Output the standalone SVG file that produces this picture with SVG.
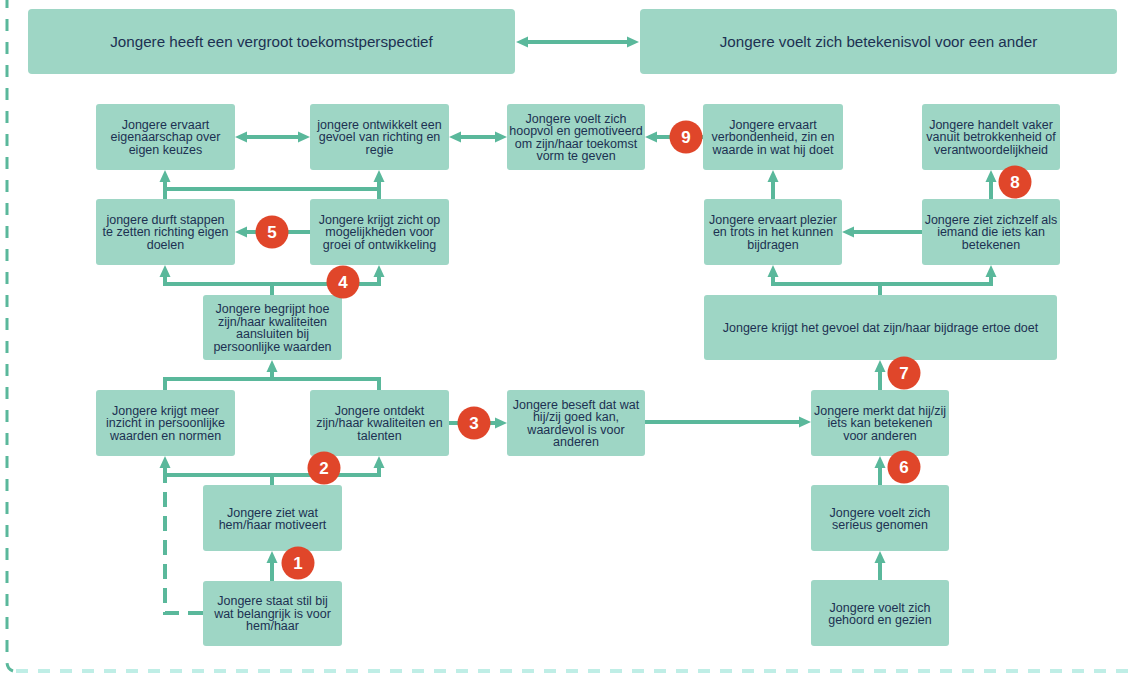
<svg xmlns="http://www.w3.org/2000/svg" width="1137" height="673" viewBox="0 0 1137 673">
<defs>
<style>
.box{fill:#9ed6c5}
.t{font-family:"Liberation Sans",Arial,sans-serif;font-size:12.5px;fill:#1c3152;text-anchor:middle}
.tl{font-family:"Liberation Sans",Arial,sans-serif;font-size:15.2px;fill:#1c3152;text-anchor:middle}
.c{fill:none;stroke:#5ab89b;stroke-width:4}
.a{marker-end:url(#ah)}
.aa{marker-start:url(#ah);marker-end:url(#ah)}
.dash{stroke-dasharray:15 9}
.bd{fill:#e0462a}
.bn{font-family:"Liberation Sans",Arial,sans-serif;font-size:17px;font-weight:bold;fill:#ffffff;text-anchor:middle}
</style>
<marker id="ah" viewBox="0 0 12 12" refX="6" refY="6" markerWidth="12" markerHeight="12" markerUnits="userSpaceOnUse" orient="auto-start-reverse">
<path d="M0,0.5 L12,6 L0,11.5 Z" fill="#5ab89b"/>
</marker>
</defs>
<rect width="1137" height="673" fill="#ffffff"/>
<g id="border">
<path d="M7,-4 V662 Q7,669 13,671" fill="none" stroke="#5ab89b" stroke-width="3" stroke-dasharray="12 11"/>
<path d="M16,671 H1137" fill="none" stroke="#bfeee6" stroke-width="4" stroke-dasharray="12 10"/>
</g>
<g id="connectors">
<path class="c aa" d="M522,42 H633"/>
<path class="c aa" d="M241,137 H304"/>
<path class="c aa" d="M455,137 H501"/>
<path class="c a" d="M703,137 H651"/>
<path class="c a" d="M165,199 V176"/>
<path class="c a" d="M379,199 V176"/>
<path class="c" d="M165,189 H379"/>
<path class="c a" d="M310,232 H241"/>
<path class="c" d="M272,295 V284"/>
<path class="c aa" d="M165,271 V284 H379 V271"/>
<path class="c" d="M165,390 V379 H379 V390"/>
<path class="c a" d="M272,379 V366"/>
<path class="c" d="M272,485 V475"/>
<path class="c aa" d="M165,462 V475 H379 V462"/>
<path class="c a" d="M272,581 V557"/>
<path class="c dash" d="M203,613 H165 V477"/>
<path class="c a" d="M449,423 H501"/>
<path class="c a" d="M645,422 H805"/>
<path class="c a" d="M880,580 V557"/>
<path class="c a" d="M880,485 V462"/>
<path class="c a" d="M880,390 V366"/>
<path class="c" d="M880,295 V284"/>
<path class="c aa" d="M773,271 V284 H991 V271"/>
<path class="c a" d="M922,232 H848"/>
<path class="c a" d="M773,199 V176"/>
<path class="c a" d="M991,199 V176"/>
</g>
<g id="top1"><rect class="box" x="28" y="9" width="487" height="65" rx="4"/><text class="tl" x="271.5" y="46.8">Jongere heeft een vergroot toekomstperspectief</text></g>
<g id="top2"><rect class="box" x="640" y="9" width="477" height="65" rx="4"/><text class="tl" x="878.5" y="46.8">Jongere voelt zich betekenisvol voor een ander</text></g>
<g id="nA"><rect class="box" x="96" y="104" width="139" height="66" rx="3"/><text class="t"><tspan x="165.5" y="128.9">Jongere ervaart</tspan><tspan x="165.5" y="141.4">eigenaarschap over</tspan><tspan x="165.5" y="153.9">eigen keuzes</tspan></text></g>
<g id="nB"><rect class="box" x="310" y="104" width="139" height="66" rx="3"/><text class="t"><tspan x="379.5" y="128.9">jongere ontwikkelt een</tspan><tspan x="379.5" y="141.4">gevoel van richting en</tspan><tspan x="379.5" y="153.9">regie</tspan></text></g>
<g id="nC"><rect class="box" x="507" y="104" width="138" height="66" rx="3"/><text class="t"><tspan x="576" y="122.7">Jongere voelt zich</tspan><tspan x="576" y="135.2">hoopvol en gemotiveerd</tspan><tspan x="576" y="147.7">om zijn/haar toekomst</tspan><tspan x="576" y="160.2">vorm te geven</tspan></text></g>
<g id="nD"><rect class="box" x="703" y="104" width="140" height="66" rx="3"/><text class="t"><tspan x="773" y="128.9">Jongere ervaart</tspan><tspan x="773" y="141.4">verbondenheid, zin en</tspan><tspan x="773" y="153.9">waarde in wat hij doet</tspan></text></g>
<g id="nE"><rect class="box" x="922" y="104" width="138" height="66" rx="3"/><text class="t"><tspan x="991" y="128.9">Jongere handelt vaker</tspan><tspan x="991" y="141.4">vanuit betrokkenheid of</tspan><tspan x="991" y="153.9">verantwoordelijkheid</tspan></text></g>
<g id="nF"><rect class="box" x="96" y="199" width="139" height="66" rx="3"/><text class="t"><tspan x="165.5" y="223.9">jongere durft stappen</tspan><tspan x="165.5" y="236.4">te zetten richting eigen</tspan><tspan x="165.5" y="248.9">doelen</tspan></text></g>
<g id="nG"><rect class="box" x="310" y="199" width="139" height="66" rx="3"/><text class="t"><tspan x="379.5" y="223.9">Jongere krijgt zicht op</tspan><tspan x="379.5" y="236.4">mogelijkheden voor</tspan><tspan x="379.5" y="248.9">groei of ontwikkeling</tspan></text></g>
<g id="nH"><rect class="box" x="704" y="199" width="138" height="66" rx="3"/><text class="t"><tspan x="773" y="223.9">Jongere ervaart plezier</tspan><tspan x="773" y="236.4">en trots in het kunnen</tspan><tspan x="773" y="248.9">bijdragen</tspan></text></g>
<g id="nI"><rect class="box" x="922" y="199" width="138" height="66" rx="3"/><text class="t"><tspan x="991" y="223.9">Jongere ziet zichzelf als</tspan><tspan x="991" y="236.4">iemand die iets kan</tspan><tspan x="991" y="248.9">betekenen</tspan></text></g>
<g id="nJ"><rect class="box" x="203" y="295" width="139" height="65" rx="3"/><text class="t"><tspan x="272.5" y="313.2">Jongere begrijpt hoe</tspan><tspan x="272.5" y="325.7">zijn/haar kwaliteiten</tspan><tspan x="272.5" y="338.2">aansluiten bij</tspan><tspan x="272.5" y="350.7">persoonlijke waarden</tspan></text></g>
<g id="nK"><rect class="box" x="704" y="295" width="353" height="65" rx="3"/><text class="t" x="880.5" y="332">Jongere krijgt het gevoel dat zijn/haar bijdrage ertoe doet</text></g>
<g id="nL"><rect class="box" x="96" y="390" width="139" height="66" rx="3"/><text class="t"><tspan x="165.5" y="414.9">Jongere krijgt meer</tspan><tspan x="165.5" y="427.4">inzicht in persoonlijke</tspan><tspan x="165.5" y="439.9">waarden en normen</tspan></text></g>
<g id="nM"><rect class="box" x="310" y="390" width="139" height="66" rx="3"/><text class="t"><tspan x="379.5" y="414.9">Jongere ontdekt</tspan><tspan x="379.5" y="427.4">zijn/haar kwaliteiten en</tspan><tspan x="379.5" y="439.9">talenten</tspan></text></g>
<g id="nN"><rect class="box" x="507" y="390" width="138" height="66" rx="3"/><text class="t"><tspan x="576" y="408.7">Jongere beseft dat wat</tspan><tspan x="576" y="421.2">hij/zij goed kan,</tspan><tspan x="576" y="433.7">waardevol is voor</tspan><tspan x="576" y="446.2">anderen</tspan></text></g>
<g id="nO"><rect class="box" x="811" y="390" width="138" height="66" rx="3"/><text class="t"><tspan x="880" y="414.9">Jongere merkt dat hij/zij</tspan><tspan x="880" y="427.4">iets kan betekenen</tspan><tspan x="880" y="439.9">voor anderen</tspan></text></g>
<g id="nP"><rect class="box" x="203" y="485" width="139" height="66" rx="3"/><text class="t"><tspan x="272.5" y="516.7">Jongere ziet wat</tspan><tspan x="272.5" y="529.2">hem/haar motiveert</tspan></text></g>
<g id="nQ"><rect class="box" x="811" y="485" width="138" height="66" rx="3"/><text class="t"><tspan x="880" y="516.7">Jongere voelt zich</tspan><tspan x="880" y="529.2">serieus genomen</tspan></text></g>
<g id="nR"><rect class="box" x="203" y="581" width="139" height="65" rx="3"/><text class="t"><tspan x="272.5" y="605.4">Jongere staat stil bij</tspan><tspan x="272.5" y="617.9">wat belangrijk is voor</tspan><tspan x="272.5" y="630.4">hem/haar</tspan></text></g>
<g id="nS"><rect class="box" x="811" y="580" width="138" height="66" rx="3"/><text class="t"><tspan x="880" y="611.7">Jongere voelt zich</tspan><tspan x="880" y="624.2">gehoord en gezien</tspan></text></g>
<g id="badges">
<g id="b1"><circle class="bd" cx="298" cy="563" r="16.5"/><text class="bn" x="298" y="569">1</text></g>
<g id="b2"><circle class="bd" cx="324" cy="468" r="16.5"/><text class="bn" x="324" y="474">2</text></g>
<g id="b3"><circle class="bd" cx="474" cy="423" r="16.5"/><text class="bn" x="474" y="429">3</text></g>
<g id="b4"><circle class="bd" cx="343" cy="282" r="16.5"/><text class="bn" x="343" y="288">4</text></g>
<g id="b5"><circle class="bd" cx="272" cy="232" r="16.5"/><text class="bn" x="272" y="238">5</text></g>
<g id="b6"><circle class="bd" cx="904" cy="467" r="16.5"/><text class="bn" x="904" y="473">6</text></g>
<g id="b7"><circle class="bd" cx="904" cy="373" r="16.5"/><text class="bn" x="904" y="379">7</text></g>
<g id="b8"><circle class="bd" cx="1015" cy="182" r="16.5"/><text class="bn" x="1015" y="188">8</text></g>
<g id="b9"><circle class="bd" cx="686" cy="137" r="16.5"/><text class="bn" x="686" y="143">9</text></g>
</g>
</svg>
